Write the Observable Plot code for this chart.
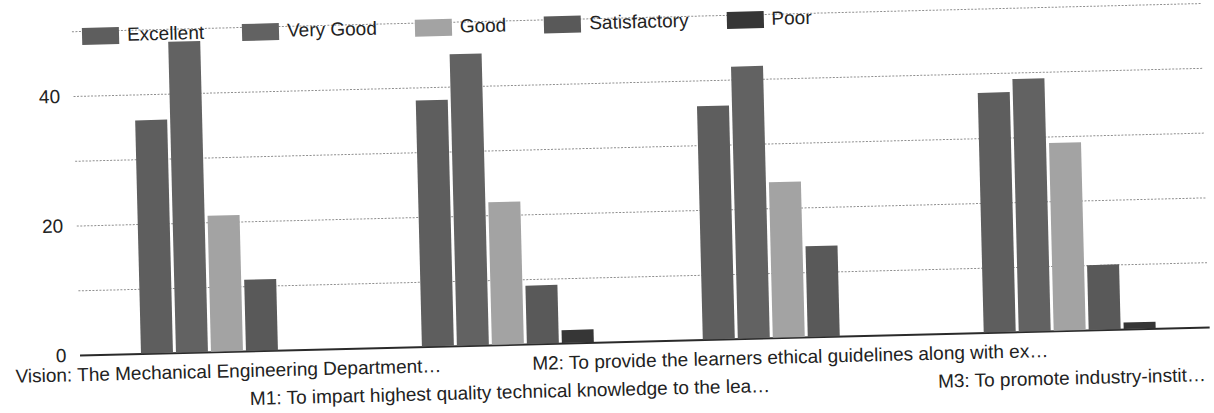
<!DOCTYPE html>
<html>
<head>
<meta charset="utf-8">
<script src="https://cdn.jsdelivr.net/npm/d3@7"></script>
<script src="https://cdn.jsdelivr.net/npm/@observablehq/plot@0.6"></script>
<style>
  html, body { margin: 0; padding: 0; background: #fff; }
  #wrap { position: relative; width: 1214px; height: 413px; overflow: visible;
          transform: rotate(-1.43deg); transform-origin: 85px 355px; }
  #legend { position: absolute; left: 90px; top: 25px; display: flex; align-items: center;
            font-family: "Liberation Sans", Arial, sans-serif; font-size: 19px; color: #222; }
  .item { display: flex; align-items: center; margin-right: 38px; }
  .sw { width: 37px; height: 17px; margin-right: 8px; }
  .layer { position: absolute; left: 0; top: 0; }
</style>
</head>
<body>
<div id="wrap">
  <div id="grid" class="layer"></div>
  <div id="bars" class="layer"></div>
  <div id="legend"></div>
</div>
<script>
// Categories (x-axis labels, as printed)
const groups = [
  "Vision: The Mechanical Engineering Department…",
  "M1: To impart highest quality technical knowledge to the lea…",
  "M2: To provide the learners ethical guidelines along with ex…",
  "M3: To promote industry-instit…"
];
// Series
const ratings = ["Excellent", "Very Good", "Good", "Satisfactory", "Poor"];
const excellent    = [36, 38, 36, 37];
const veryGood     = [48, 45, 42, 39];
const good         = [21, 22, 24, 29];
const satisfactory = [11,  9, 14, 10];
const poor         = [ 0,  2,  0,  1];
const colors = ["#5e5e5e", "#626262", "#a3a3a3", "#595959", "#363636"];
// Axis ticks
const yLabelTicks = [0, 20, 40];
const gridTicks = [10, 20, 30, 40, 50];

const series = [excellent, veryGood, good, satisfactory, poor];
const rows = groups.flatMap((g, i) => ratings.map((r, j) => ({group: g, rating: r, value: series[j][i]})));
const labelsRow1 = groups.filter((g, i) => i % 2 === 0);
const labelsRow2 = groups.filter((g, i) => i % 2 === 1);

const font = "'Liberation Sans', Arial, sans-serif";
const common = {
  width: 1214,
  height: 413,
  marginTop: 31,
  marginBottom: 58,
  style: {fontFamily: font, fontSize: "19px", color: "#222", background: "transparent", overflow: "visible"},
  y: {domain: [0, 50], axis: null}
};

// Layer 1: continuous gridlines, baseline and y tick labels
const gridPlot = Plot.plot({
  ...common,
  marginLeft: 80,
  marginRight: 4,
  x: {domain: [0, 1], axis: null},
  marks: [
    Plot.ruleY(gridTicks, {stroke: "#8f8f8f", strokeWidth: 1, strokeDasharray: "2,1.5"}),
    Plot.ruleY([0], {stroke: "#2a2a2a", strokeWidth: 2}),
    Plot.axisY(yLabelTicks, {tickSize: 0, tickPadding: 14, label: null, fill: "#222"})
  ]
});
document.getElementById("grid").append(gridPlot);

// Layer 2: grouped bars and category labels
const barPlot = Plot.plot({
  ...common,
  marginLeft: 85,
  marginRight: 0,
  fx: {domain: groups, paddingInner: 0.384, paddingOuter: 0.2, axis: null, label: null},
  x: {domain: ratings, paddingInner: 0.085, paddingOuter: 0, axis: null},
  color: {domain: ratings, range: colors},
  marks: [
    Plot.barY(rows, {fx: "group", x: "rating", y: "value", fill: "rating"}),
    Plot.text(labelsRow1, {fx: d => d, text: d => d, frameAnchor: "bottom", lineAnchor: "top", dy: 12, fill: "#222", fontSize: 19}),
    Plot.text(labelsRow2, {fx: d => d, text: d => d, frameAnchor: "bottom", lineAnchor: "top", dy: 40, fill: "#222", fontSize: 19})
  ]
});
document.getElementById("bars").append(barPlot);

const legend = d3.select("#legend");
ratings.forEach((r, i) => {
  const it = legend.append("div").attr("class", "item");
  it.append("div").attr("class", "sw").style("background", colors[i]);
  it.append("span").text(r);
});
</script>
</body>
</html>
